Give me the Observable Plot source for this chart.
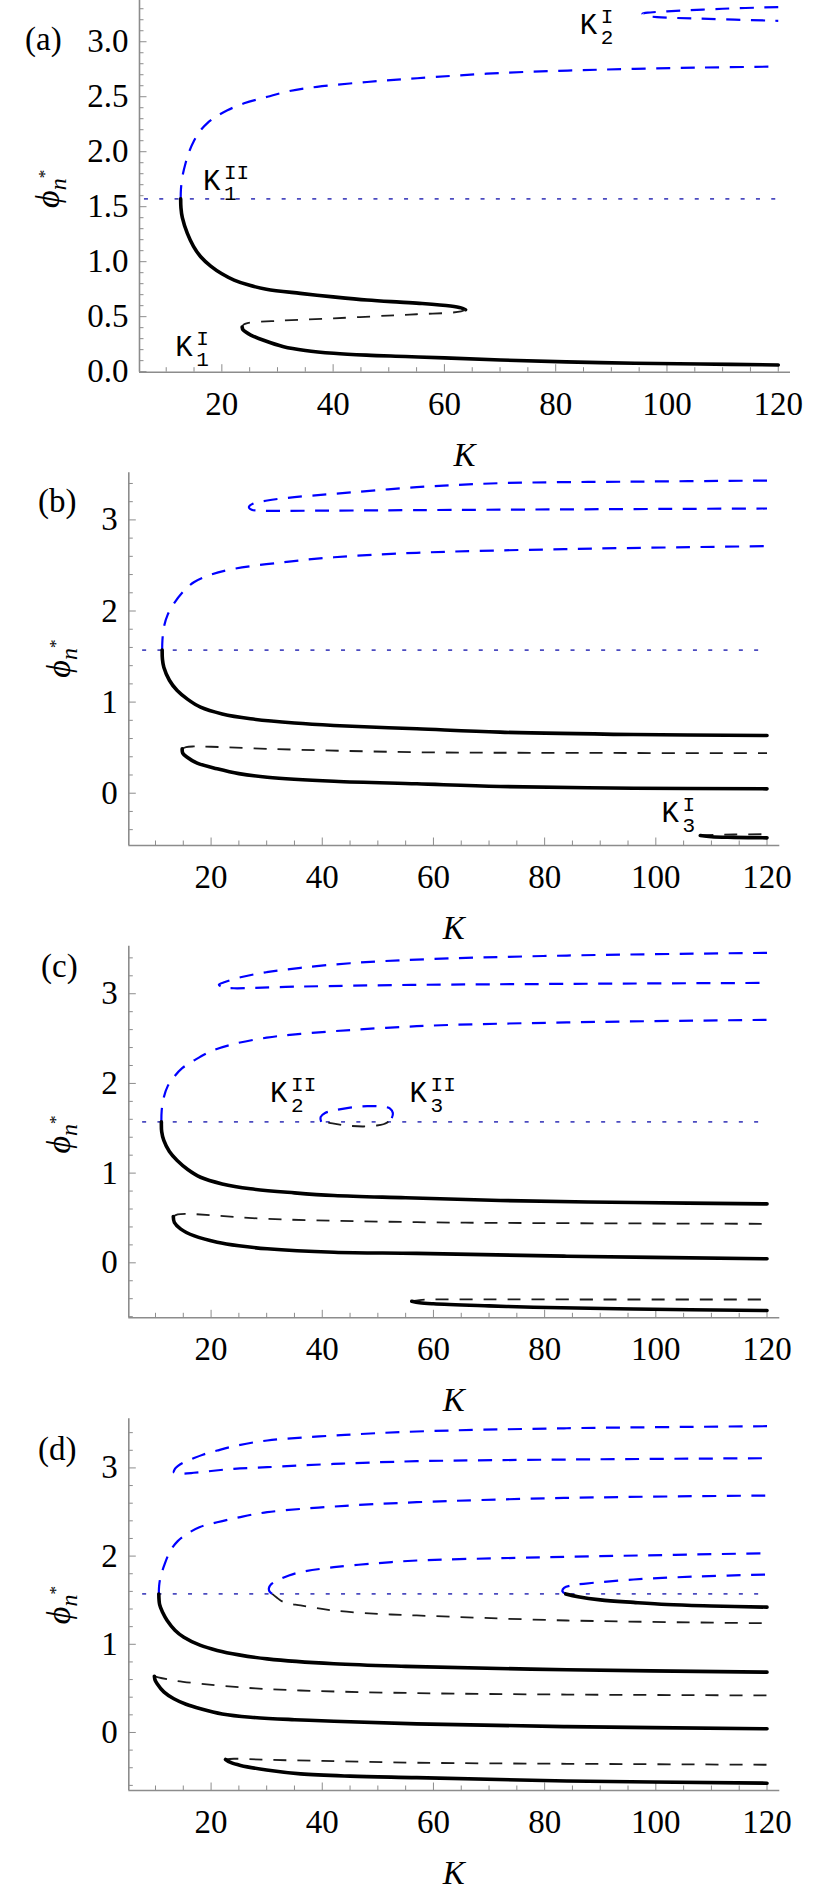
<!DOCTYPE html>
<html><head><meta charset="utf-8">
<script src="https://cdn.jsdelivr.net/npm/d3@7"></script>
<script src="https://cdn.jsdelivr.net/npm/@observablehq/plot@0.6"></script>
<style>
body{margin:0;background:#fff;}
#wrap{position:relative;width:831px;height:1893px;overflow:hidden;background:#fff;}
#wrap svg{position:absolute;left:0;}
</style></head><body><div id="wrap"></div>
<script>
const HALF_PI = Math.PI / 2;

// ---------- panel (a) : [K, phi] ----------
const a_blue = [[12.6,1.571],[12.65,1.66],[12.9,1.77],[13.5,1.90],[14.2,2.01],[15.0,2.10],[16.1,2.19],[17.4,2.26],[19,2.32],[21.0,2.377],[24,2.44],[28.2,2.50],[32,2.55],[37.1,2.59],[46.1,2.634],[55.1,2.668],[70.1,2.716],[88,2.746],[106,2.765],[120,2.774]];
const a_solidUpper = [[12.6,1.571],[12.65,1.49],[12.9,1.40],[13.8,1.257],[14.9,1.14],[16.2,1.045],[18,0.96],[20,0.89],[22.2,0.833],[25,0.785],[28,0.75],[34.1,0.712],[40,0.68],[46.1,0.651],[52,0.632],[56,0.62],[61.1,0.597],[63,0.58],[63.8,0.563]];
const a_dashMid = [[63.8,0.563],[63,0.548],[61.1,0.536],[55,0.522],[52.1,0.515],[40.1,0.485],[30,0.462],[24.6,0.442],[23.9,0.428],[23.65,0.405]];
const a_solidLower = [[23.65,0.405],[23.8,0.38],[24.3,0.36],[25.2,0.333],[27.5,0.285],[31.1,0.227],[35,0.193],[40.1,0.167],[46,0.15],[53,0.138],[60,0.125],[70.1,0.106],[88,0.082],[106,0.07],[120,0.061]];
const a_blueK2 = [[120,3.315],[110,3.30],[100,3.276],[97,3.266],[95.6,3.255],[96.3,3.237],[98.2,3.224],[106,3.21],[120,3.19]];
const a_dotK = [6, 120];

// ---------- panel (b) ----------
const b_blue = [[11.2,1.571],[11.25,1.68],[11.5,1.82],[12.2,1.96],[13.3,2.08],[14.8,2.2],[16.9,2.316],[20,2.40],[24.1,2.463],[33.1,2.536],[42.1,2.59],[57,2.639],[84,2.68],[120,2.712]];
const b_blueTop = [[120,3.432],[96,3.42],[72,3.403],[57,3.359],[42.1,3.286],[35,3.25],[30.1,3.213],[27.6,3.18],[26.8,3.14],[27.3,3.112],[28.3,3.103],[33.3,3.10],[50,3.105],[78,3.114],[120,3.125]];
const b_solidUpper = [[11.2,1.571],[11.25,1.47],[11.5,1.383],[12.5,1.24],[13.9,1.127],[15.8,1.03],[18.1,0.944],[22,0.87],[27.1,0.817],[35,0.77],[42.1,0.743],[57,0.707],[72,0.67],[96,0.644],[120,0.633]];
const b_dashMid = [[14.8,0.487],[15.5,0.506],[16.9,0.513],[20,0.51],[30.1,0.487],[57,0.45],[84,0.443],[120,0.439]];
const b_solidLower = [[14.8,0.487],[14.9,0.44],[15.7,0.395],[17.5,0.33],[21.1,0.268],[25,0.215],[30.1,0.176],[42.1,0.132],[57,0.103],[72,0.074],[96,0.055],[120,0.048]];
const b_dashK3 = [[108,-0.464],[111,-0.455],[114,-0.453],[120,-0.45]];
const b_solidK3 = [[108,-0.464],[110,-0.478],[114,-0.485],[120,-0.49]];
const b_dotK = [7.6, 120];

// ---------- panel (c) ----------
const c_blue = [[11.06,1.571],[11.12,1.70],[11.5,1.846],[12.2,1.97],[13.3,2.07],[14.8,2.17],[16.9,2.255],[20,2.36],[24.1,2.44],[30,2.51],[36.1,2.553],[57,2.638],[84,2.68],[120,2.709]];
const c_blueTop = [[120,3.456],[84,3.426],[57,3.381],[45,3.34],[36.1,3.289],[30,3.24],[25.3,3.184],[22.5,3.13],[21.4,3.099],[22.5,3.068],[24.1,3.061],[36.1,3.08],[57,3.099],[84,3.11],[120,3.121]];
const c_loopBlue = [[39.8,1.571],[39.7,1.623],[40.5,1.67],[42.1,1.698],[45,1.73],[48.1,1.747],[51,1.74],[52.2,1.72],[52.7,1.67],[52.4,1.60],[51.9,1.571]];
const c_loopDash = [[51.9,1.571],[51,1.545],[49.8,1.531],[47.4,1.52],[44.5,1.53],[42.1,1.552],[40.8,1.565],[39.8,1.571]];
const c_solidUpper = [[11.06,1.571],[11.12,1.46],[11.5,1.364],[12.5,1.24],[13.9,1.14],[15.8,1.04],[18.1,0.954],[22,0.88],[27.1,0.825],[35,0.78],[42.1,0.75],[55,0.725],[72,0.695],[96,0.672],[120,0.657]];
const c_dashMid = [[13.2,0.516],[14,0.54],[15.7,0.546],[20,0.53],[30.1,0.49],[57,0.453],[84,0.442],[120,0.435]];
const c_solidLower = [[13.2,0.516],[13.4,0.45],[14.5,0.379],[17,0.3],[21.1,0.23],[25,0.19],[30.1,0.156],[42.1,0.118],[57,0.105],[84,0.074],[120,0.045]];
const c_dashBottom = [[56.1,-0.428],[57.5,-0.415],[60,-0.409],[90,-0.409],[120,-0.409]];
const c_solidBottom = [[56.1,-0.428],[57.5,-0.445],[60,-0.457],[70,-0.48],[78,-0.495],[96,-0.515],[120,-0.532]];
const c_dotK = [7.6, 120];

// ---------- panel (d) ----------
const d_blue = [[10.6,1.571],[10.65,1.66],[10.9,1.761],[11.6,1.9],[12.7,2.063],[14,2.17],[15.7,2.253],[18,2.33],[21.1,2.384],[25,2.44],[30.1,2.498],[42.1,2.562],[57,2.611],[84,2.66],[120,2.687]];
const d_blueTop = [[120,3.473],[84,3.45],[57,3.413],[42.1,3.367],[30.1,3.311],[24.7,3.254],[21.1,3.197],[18.5,3.15],[16.5,3.10],[15,3.06],[14,3.02],[13.5,2.99],[13.3,2.951],[13.8,2.936],[15,2.935],[16.9,2.945],[20,2.965],[24.1,2.99],[30.1,3.008],[42,3.045],[57,3.076],[84,3.095],[120,3.11]];
const d_loopBlue = [[31.0,1.571],[30.5,1.60],[30.4,1.635],[30.8,1.68],[31.9,1.723],[34,1.78],[36.1,1.818],[42.1,1.874],[50,1.92],[57,1.95],[75,1.98],[90,1.999],[120,2.033]];
const d_loopDash = [[31.0,1.571],[31.8,1.53],[33,1.48],[36.1,1.44],[42.1,1.383],[50,1.345],[57,1.327],[84,1.27],[120,1.239]];
const d_smallBlue = [[83.8,1.571],[83.2,1.60],[83.5,1.64],[85,1.67],[87,1.686],[96,1.735],[108,1.77],[120,1.791]];
const d_smallSolid = [[83.8,1.571],[86,1.54],[90,1.504],[96,1.475],[102,1.451],[110,1.435],[120,1.421]];
const d_solidUpper = [[10.6,1.571],[10.75,1.45],[11.3,1.36],[12.1,1.27],[13.5,1.16],[15.1,1.08],[18,0.99],[21.1,0.93],[25,0.88],[30.1,0.835],[42.1,0.779],[55,0.75],[84,0.711],[120,0.684]];
const d_dashMid = [[9.8,0.638],[10.5,0.625],[13.3,0.59],[17,0.56],[21.1,0.533],[28,0.5],[36.1,0.476],[57,0.446],[84,0.43],[120,0.42]];
const d_solidLower = [[9.8,0.638],[9.9,0.6],[10.3,0.552],[11.5,0.46],[13.3,0.382],[15.5,0.32],[18.1,0.269],[22,0.21],[27.1,0.173],[35,0.145],[42.1,0.128],[57,0.098],[84,0.066],[120,0.042]];
const d_dashBottom = [[22.6,-0.306],[24.1,-0.298],[30,-0.31],[40,-0.322],[57,-0.343],[84,-0.355],[120,-0.366]];
const d_solidBottom = [[22.6,-0.306],[23.5,-0.34],[25.3,-0.374],[30,-0.425],[36.1,-0.469],[45,-0.495],[57,-0.512],[84,-0.55],[120,-0.575]];
const d_dotK = [7.6, 120];

// ---------- ticks ----------
const xMajor = [20, 40, 60, 80, 100, 120];
const xMinor = [10, 15, 25, 30, 35, 45, 50, 55, 65, 70, 75, 85, 90, 95, 105, 110, 115];
const a_yMajor = [0, 0.5, 1.0, 1.5, 2.0, 2.5, 3.0];
const a_yMinor = [0.1,0.2,0.3,0.4,0.6,0.7,0.8,0.9,1.1,1.2,1.3,1.4,1.6,1.7,1.8,1.9,2.1,2.2,2.3,2.4,2.6,2.7,2.8,2.9,3.1,3.2,3.3];
const bcd_yMajor = [0, 1, 2, 3];
const bcd_yMinor = [-0.6,-0.4,-0.2,0.2,0.4,0.6,0.8,1.2,1.4,1.6,1.8,2.2,2.4,2.6,2.8,3.2,3.4];

// ---------- styles ----------
const SERIF = "'Liberation Serif', 'Times New Roman', serif";
const MONO = "'Liberation Mono', 'Courier New', monospace";
const AXIS = "#8c8c8c";
const SOLID = {stroke: "#000", strokeWidth: 3.6, strokeLinecap: "round"};
const DASH = {stroke: "#1c1c1c", strokeWidth: 1.8, strokeDasharray: "13,11", strokeLinecap: "butt"};
const BLUE = {stroke: "#0000ff", strokeWidth: 2.2, strokeDasharray: "14,10.5", strokeLinecap: "butt"};
const DOT = {stroke: "#4b4bc0", strokeWidth: 1.7, strokeDasharray: "4,11.3", strokeLinecap: "butt"};

function curve(data, style) {
  return Plot.line(data, {x: d => d[0], y: d => d[1], curve: "catmull-rom", ...style});
}

const wrap = document.getElementById("wrap");

function panel(cfg) {
  const marks = [
    Plot.ruleX([cfg.xDomain[0]], {stroke: AXIS, strokeWidth: 1.6}),
    Plot.ruleY([cfg.yDomain[0]], {stroke: AXIS, strokeWidth: 1.6}),
    Plot.axisX(xMinor, {tickSize: 4.5, dy: -4.5, tickFormat: () => "", stroke: AXIS, label: null}),
    Plot.axisX(xMajor, {tickSize: 7.5, dy: -7.5, tickFormat: () => "", stroke: AXIS, label: null}),
    Plot.axisX(xMajor, {tickSize: 0, tickPadding: 19, fontSize: 33, fontFamily: SERIF, fill: "#000", label: null}),
    Plot.axisY(cfg.yMinor, {tickSize: 4.5, dx: 4.5, tickFormat: () => "", stroke: AXIS, label: null}),
    Plot.axisY(cfg.yMajor, {tickSize: 7.5, dx: 7.5, tickFormat: () => "", stroke: AXIS, label: null}),
    Plot.axisY(cfg.yMajor, {tickSize: 0, tickPadding: 11, fontSize: 33, fontFamily: SERIF, fill: "#000", tickFormat: cfg.yFmt, label: null}),
    curve(cfg.dotK.map(k => [k, HALF_PI]), DOT),
    ...cfg.curves.map(([data, style]) => curve(data, style))
  ];
  const chart = Plot.plot({
    width: 831,
    height: cfg.height,
    marginTop: cfg.marginTop,
    marginBottom: cfg.marginBottom,
    marginLeft: cfg.marginLeft,
    marginRight: cfg.marginRight,
    x: {domain: cfg.xDomain},
    y: {domain: cfg.yDomain},
    style: {background: "transparent", overflow: "visible", fontFamily: SERIF},
    marks
  });
  chart.style.top = cfg.top + "px";
  const svg = d3.select(chart);
  const xs = chart.scale("x"), ys = chart.scale("y");
  const axisY = cfg.height - cfg.marginBottom;
  const xMid = (cfg.marginLeft + 831 - cfg.marginRight) / 2;
  // x axis label
  svg.append("text").attr("x", xMid).attr("y", axisY + 94).attr("text-anchor", "middle")
    .attr("font-family", SERIF).attr("font-style", "italic").attr("font-size", 33).attr("fill", "#000").text("K");
  // y axis label  phi_{n*}
  const yMidPix = (cfg.marginTop + axisY) / 2 + cfg.yLabelShift;
  const yl = svg.append("text").attr("transform", `translate(${cfg.yLabelX},${yMidPix}) rotate(-90)`)
    .attr("text-anchor", "middle").attr("font-family", SERIF).attr("font-style", "italic").attr("fill", "#000");
  yl.append("tspan").attr("font-size", 34).text("\u03D5");
  yl.append("tspan").attr("font-size", 24).attr("dy", 7).text("n");
  yl.append("tspan").attr("font-size", 17).attr("dy", -16).attr("font-style", "normal").text("*");
  // panel letter
  svg.append("text").attr("x", cfg.letterX).attr("y", cfg.letterY - cfg.top).attr("text-anchor", "start")
    .attr("font-family", SERIF).attr("font-size", 33).attr("fill", "#000").text(cfg.letter);
  // K annotations
  for (const [k, phi, sub, sup] of cfg.annotations) {
    const x = xs.apply(k), y = ys.apply(phi);
    const g = svg.append("g").attr("text-anchor", "start").attr("font-family", MONO).attr("fill", "#000");
    g.append("text").attr("x", x).attr("y", y).attr("font-size", 29).text("K");
    g.append("text").attr("x", x + 21).attr("y", y - 11).attr("font-size", 21).text(sup);
    g.append("text").attr("x", x + 21).attr("y", y + 10).attr("font-size", 21).text(sub);
  }
  wrap.appendChild(chart);
}

const fmt1 = d3.format(".1f");
const fmt0 = d => String(d);

panel({
  top: 0, height: 480, marginTop: 0, marginBottom: 108.3, marginLeft: 139, marginRight: 41,
  xDomain: [5.2, 122.2], yDomain: [-0.005, 3.375], yMajor: a_yMajor, yMinor: a_yMinor, yFmt: fmt1,
  dotK: a_dotK, letter: "(a)", letterX: 25, letterY: 50, yLabelX: 59, yLabelShift: 3,
  curves: [[a_blue, BLUE], [a_blueK2, BLUE], [a_solidUpper, SOLID], [a_dashMid, DASH], [a_solidLower, SOLID]],
  annotations: [[16.7, 1.65, "1", "II"], [11.7, 0.136, "1", "I"], [84.4, 3.07, "2", "I"]]
});
panel({
  top: 440, height: 500, marginTop: 32.3, marginBottom: 95, marginLeft: 128.3, marginRight: 51.7,
  xDomain: [5.2, 122.3], yDomain: [-0.574, 3.517], yMajor: bcd_yMajor, yMinor: bcd_yMinor.filter(v => v > -0.574), yFmt: fmt0,
  dotK: b_dotK, letter: "(b)", letterX: 38, letterY: 512, yLabelX: 70, yLabelShift: 0,
  curves: [[b_blue, BLUE], [b_blueTop, BLUE], [b_solidUpper, SOLID], [b_dashMid, DASH], [b_solidLower, SOLID], [b_dashK3, DASH], [b_solidK3, SOLID]],
  annotations: [[101.1, -0.318, "3", "I"]]
});
panel({
  top: 920, height: 500, marginTop: 25.7, marginBottom: 102.7, marginLeft: 128.3, marginRight: 51.7,
  xDomain: [5.2, 122.3], yDomain: [-0.613, 3.53], yMajor: bcd_yMajor, yMinor: bcd_yMinor, yFmt: fmt0,
  dotK: c_dotK, letter: "(c)", letterX: 41, letterY: 977, yLabelX: 70, yLabelShift: 3,
  curves: [[c_blue, BLUE], [c_blueTop, BLUE], [c_loopBlue, BLUE], [c_loopDash, DASH], [c_solidUpper, SOLID], [c_dashMid, DASH], [c_solidLower, SOLID], [c_dashBottom, DASH], [c_solidBottom, SOLID]],
  annotations: [[30.7, 1.79, "2", "II"], [55.8, 1.79, "3", "II"]]
});
panel({
  top: 1400, height: 493, marginTop: 18.3, marginBottom: 103, marginLeft: 128.3, marginRight: 51.7,
  xDomain: [5.2, 122.3], yDomain: [-0.658, 3.557], yMajor: bcd_yMajor, yMinor: bcd_yMinor, yFmt: fmt0,
  dotK: d_dotK, letter: "(d)", letterX: 38, letterY: 1460, yLabelX: 70, yLabelShift: 1,
  curves: [[d_blue, BLUE], [d_blueTop, BLUE], [d_loopBlue, BLUE], [d_loopDash, DASH], [d_smallBlue, BLUE], [d_smallSolid, SOLID], [d_solidUpper, SOLID], [d_dashMid, DASH], [d_solidLower, SOLID], [d_dashBottom, DASH], [d_solidBottom, SOLID]],
  annotations: []
});
</script>
</body></html>
